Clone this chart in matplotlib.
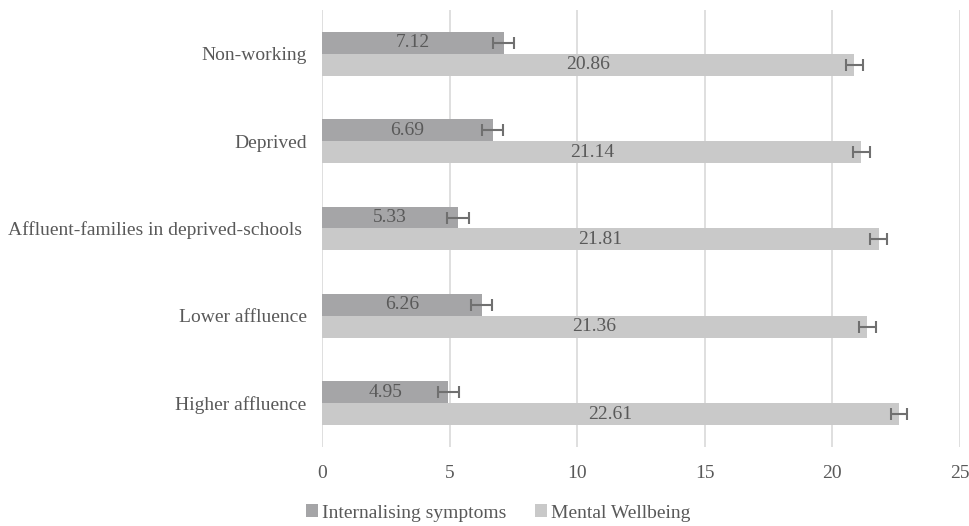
import numpy as np
import matplotlib.pyplot as plt

plt.rcParams['font.family'] = ['Liberation Serif', 'DejaVu Serif']

groups = ["Higher affluence", "Lower affluence", "Affluent-families in deprived-schools ",
          "Deprived", "Non-working"]
internalising = [4.95, 6.26, 5.33, 6.69, 7.12]
internalising_err = [0.42, 0.42, 0.42, 0.42, 0.42]
wellbeing = [22.61, 21.36, 21.81, 21.14, 20.86]
wellbeing_err = [0.33, 0.33, 0.33, 0.33, 0.33]

dark = "#a5a5a7"
light = "#c9c9c9"
text_col = "#595959"
fs = 14

fig = plt.figure(figsize=(9.7, 5.26), dpi=100)
ax = fig.add_axes([322 / 970, 1 - 447 / 526, 638 / 970, 437 / 526])

y = np.arange(len(groups))
h = 0.25
err_kw = dict(ecolor="#707070", elinewidth=1.5, capsize=4, capthick=1.5)
b1 = ax.barh(y + h / 2, internalising, height=h, color=dark, xerr=internalising_err,
             error_kw=err_kw, label="Internalising symptoms", zorder=2)
b2 = ax.barh(y - h / 2, wellbeing, height=h, color=light, xerr=wellbeing_err,
             error_kw=err_kw, label="Mental Wellbeing", zorder=2)

for bars, vals in ((b1, internalising), (b2, wellbeing)):
    for bar, v in zip(bars, vals):
        ax.text(v / 2, bar.get_y() + bar.get_height() / 2, f"{v:.2f}",
                ha="center", va="center", fontsize=fs, color=text_col, zorder=3)

ax.set_xlim(0, 25)
ax.set_ylim(-0.5, len(groups) - 0.5)
ax.set_xticks(range(0, 26, 5))
ax.set_yticks(y)
ax.set_yticklabels(groups)
ax.grid(axis="x", color="#d9d9d9", linewidth=1.2, zorder=0)
for s in ax.spines.values():
    s.set_visible(False)
ax.tick_params(axis="both", length=0, labelsize=fs, labelcolor=text_col)
ax.tick_params(axis="x", pad=13)
ax.tick_params(axis="y", pad=11)

fig.legend(handles=[b1, b2], loc="center", bbox_to_anchor=(498 / 970, 1 - 513 / 526),
           ncol=2, frameon=False, fontsize=fs, labelcolor=text_col,
           handlelength=0.6, handleheight=0.6, handletextpad=0.2, columnspacing=1.5)

fig.savefig("out.png", dpi=100)
